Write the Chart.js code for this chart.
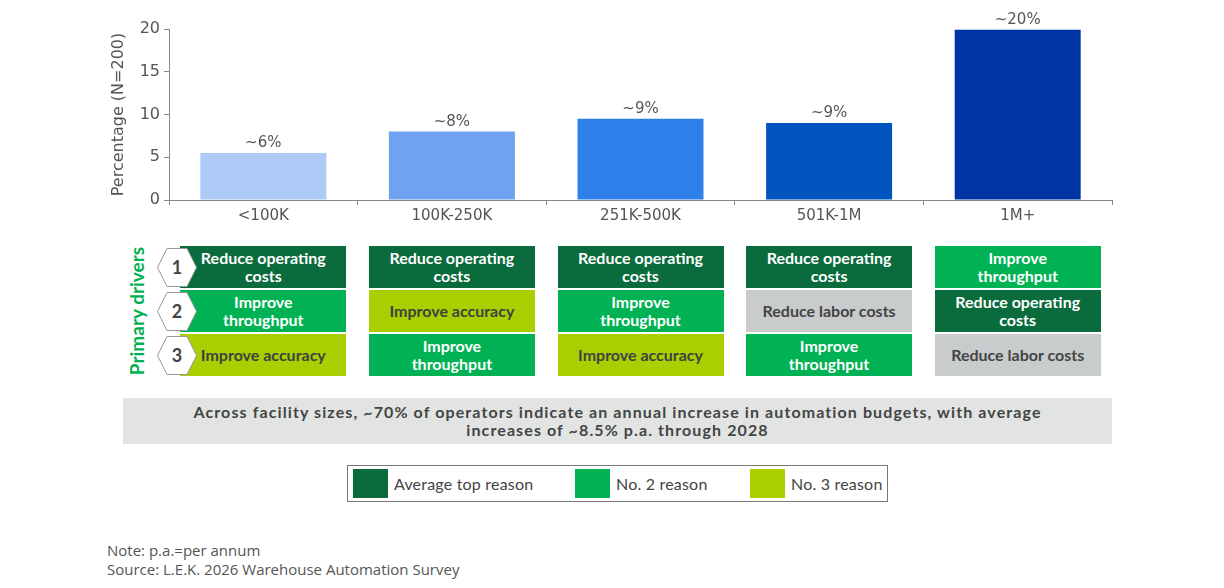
<!DOCTYPE html>
<html>
<head>
<meta charset="utf-8">
<script src="https://cdn.jsdelivr.net/npm/chart.js@4.4.1/dist/chart.umd.min.js"></script>
<style>
body { margin: 0; width: 1224px; height: 588px; position: relative; overflow: hidden; background: #fff; font-family: Lato, sans-serif; }
#chartBox { position: absolute; left: 0; top: 0; width: 1224px; height: 235px; }
.cell { position: absolute; height: 42px; display: flex; align-items: center; justify-content: center; text-align: center;
  font-weight: 700; font-size: 16px; line-height: 18px; white-space: pre-line; }
.hex { position: absolute; width: 40px; height: 39px; }
.hex span { position: absolute; left: 0; top: 0; width: 40px; height: 39px; line-height: 39px; text-align: center; font-weight: 700; font-size: 18px; color: #444; }
#drivers { position: absolute; left: 136px; top: 311px; transform: translate(-50%, -50%) rotate(-90deg); color: #00b050; font-weight: 700; font-size: 19px; white-space: nowrap; }
#noteBox { position: absolute; left: 123px; top: 398px; width: 989px; height: 46px; background: #e1e4e3; color: #444; letter-spacing: 1.1px;
  font-weight: 700; font-size: 16px; line-height: 18px; text-align: center; white-space: pre-line; display: flex; align-items: center; justify-content: center; }
#legend { position: absolute; left: 347px; top: 465px; width: 539px; height: 35px; border: 1px solid #777; }
.sw { position: absolute; top: 3px; width: 35px; height: 29px; }
.lt { position: absolute; top: 0; line-height: 36px; font-size: 16px; letter-spacing: 0.2px; color: #444; }
.foot { position: absolute; left: 107px; font-family: 'Open Sans', sans-serif; font-size: 15px; color: #555; }
</style>
</head>
<body>
<div id="chartBox"><canvas id="chart"></canvas></div>
<div id="table"></div>
<div id="drivers">Primary drivers</div>
<div id="noteBox"></div>
<div id="legend"></div>
<div class="foot" style="top:540px">Note: p.a.=per annum</div>
<div class="foot" style="top:559px">Source: L.E.K. 2026 Warehouse Automation Survey</div>
<script>
const sizes = ['<100K', '100K-250K', '251K-500K', '501K-1M', '1M+']
const shares = [5.5, 8.0, 9.5, 9.0, 19.9]
const shareLabels = ['~6%', '~8%', '~9%', '~9%', '~20%']
const barColors = ['#adcbf6', '#6fa2f0', '#2f7fea', '#0056be', '#0033a3']

const driver1 = ['Reduce operating costs', 'Reduce operating costs', 'Reduce operating costs', 'Reduce operating costs', 'Improve throughput']
const driver2 = ['Improve throughput', 'Improve accuracy', 'Improve throughput', 'Reduce labor costs', 'Reduce operating costs']
const driver3 = ['Improve accuracy', 'Improve throughput', 'Improve accuracy', 'Improve throughput', 'Reduce labor costs']

const noteText = 'Across facility sizes, ~70% of operators indicate an annual increase in automation budgets, with average\nincreases of ~8.5% p.a. through 2028'
const legendLabels = ['Average top reason', 'No. 2 reason', 'No. 3 reason']

const driverStyle = {
    'Reduce operating costs': { bg: '#0a6b3c', fg: '#fff', text: 'Reduce operating\ncosts' },
    'Improve throughput': { bg: '#00b253', fg: '#fff', text: 'Improve\nthroughput' },
    'Improve accuracy': { bg: '#a8d000', fg: '#3f433f', text: 'Improve accuracy' },
    'Reduce labor costs': { bg: '#c8cccc', fg: '#444', text: 'Reduce labor costs' }
}

const chartFont = "'DejaVu Sans'"

const valueLabels = {
    id: 'valueLabels',
    afterDatasetsDraw(chart) {
        const ctx = chart.ctx
        ctx.save()
        ctx.font = '15px ' + chartFont
        ctx.fillStyle = '#555'
        ctx.textAlign = 'center'
        ctx.textBaseline = 'bottom'
        chart.getDatasetMeta(0).data.forEach((bar, i) => {
            ctx.fillText(shareLabels[i], bar.x, bar.y - 2)
        })
        ctx.restore()
    }
}

const chart = new Chart(document.getElementById('chart'), {
    type: 'bar',
    data: {
        labels: sizes,
        datasets: [{
            data: shares,
            backgroundColor: barColors,
            barPercentage: 0.668,
            categoryPercentage: 1
        }]
    },
    options: {
        responsive: true,
        maintainAspectRatio: false,
        animation: false,
        layout: { padding: { left: 106, right: 112, top: 29, bottom: 0 } },
        plugins: { legend: { display: false }, tooltip: { enabled: false } },
        scales: {
            x: {
                grid: { drawOnChartArea: false, tickLength: 5, color: '#888' },
                border: { color: '#888' },
                ticks: { color: '#555', font: { family: chartFont, size: 15 }, padding: 2 },
                afterFit: (s) => { s.height = 35 }
            },
            y: {
                min: 0,
                max: 20,
                ticks: { stepSize: 5, color: '#555', font: { family: chartFont, size: 16 }, padding: 4 },
                grid: { drawOnChartArea: false, tickLength: 5, color: '#888' },
                border: { color: '#888' },
                title: { display: true, text: 'Percentage (N=200)', color: '#555', font: { family: chartFont, size: 16 }, padding: 3 },
                afterFit: (s) => { s.width = 63 }
            }
        }
    },
    plugins: [valueLabels]
})

// driver table, lined up with the bar categories
const table = document.getElementById('table')
const rowTops = [246, 290, 334]
;[driver1, driver2, driver3].forEach((row, r) => {
    row.forEach((d, i) => {
        const cx = chart.scales.x.getPixelForValue(i)
        const st = driverStyle[d]
        const el = document.createElement('div')
        el.className = 'cell'
        el.style.left = (cx - 83) + 'px'
        el.style.width = '166px'
        el.style.top = rowTops[r] + 'px'
        el.style.background = st.bg
        el.style.color = st.fg
        el.textContent = st.text
        table.appendChild(el)
    })
    const hex = document.createElement('div')
    hex.className = 'hex'
    hex.style.left = '157px'
    hex.style.top = (rowTops[r] + 2) + 'px'
    hex.innerHTML = '<svg width="40" height="39"><polygon points="10,0.5 30,0.5 39.5,19.5 30,38.5 10,38.5 0.5,19.5" fill="#fff" stroke="#999" stroke-width="1"/></svg><span>' + (r + 1) + '</span>'
    table.appendChild(hex)
})

document.getElementById('noteBox').textContent = noteText

const legend = document.getElementById('legend')
const legendColors = ['#0b6b3c', '#00b253', '#a8d000']
const swatchX = [5, 227, 402]
legendLabels.forEach((lab, i) => {
    legend.insertAdjacentHTML('beforeend',
        '<div class="sw" style="left:' + swatchX[i] + 'px;background:' + legendColors[i] + '"></div>' +
        '<div class="lt" style="left:' + (swatchX[i] + 41) + 'px">' + lab + '</div>')
})
</script>
</body>
</html>
